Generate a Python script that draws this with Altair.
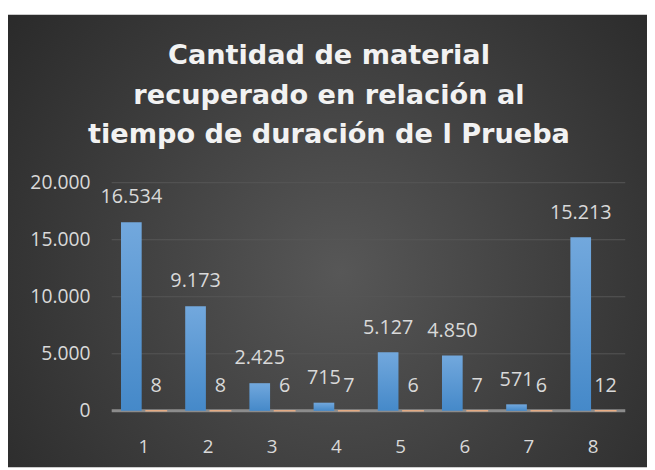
import altair as alt
import pandas as pd

categories = ["1", "2", "3", "4", "5", "6", "7", "8"]
material = [16534, 9173, 2425, 715, 5127, 4850, 571, 15213]
tiempo = [8, 8, 6, 7, 6, 7, 6, 12]
series_names = ["Material", "Tiempo"]
y_ticks = [0, 5000, 10000, 15000, 20000]
title_lines = ["Cantidad de material", "recuperado en relación al", "tiempo de duración de l Prueba"]

rows = []
for c, m, t in zip(categories, material, tiempo):
    rows.append({"cat": c, "serie": series_names[0], "valor": m})
    rows.append({"cat": c, "serie": series_names[1], "valor": t})
df = pd.DataFrame(rows)

W, H = 520, 231
FONT = "Open Sans"
TFONT = "DejaVu Sans"
one = pd.DataFrame({"a": [0]})

base = alt.Chart(df)

bg = alt.Chart(one).mark_rect(
    fill=alt.RadialGradient(
        gradient="radial",
        stops=[alt.GradientStop(color="#575757", offset=0),
               alt.GradientStop(color="#3e3e3e", offset=0.5),
               alt.GradientStop(color="#262626", offset=1)],
        x1=0.52, y1=0.55, r1=0, x2=0.52, y2=0.55, r2=0.72,
    )
).encode(x=alt.value(-105), x2=alt.value(542), y=alt.value(-170), y2=alt.value(288))

yaxis = alt.Axis(values=y_ticks, domain=False, ticks=False, grid=False, zindex=1,
                 labelColor="#d9d9d9", labelFont=FONT, labelFontSize=19.5,
                 labelPadding=22,
                 labelExpr="replace(format(datum.value, ','), ',', '.')")
xenc = alt.X("cat:N", sort=categories, title=None,
             scale=alt.Scale(paddingInner=0.29, paddingOuter=0.145),
             axis=alt.Axis(labelAngle=0, domain=False, ticks=False, grid=False, zindex=1,
                           labelColor="#d9d9d9", labelFont=FONT,
                           labelFontSize=19, labelPadding=27))
yscale = alt.Scale(domain=[0, 20000], nice=False)
yenc = alt.Y("valor:Q", title=None, scale=yscale, axis=yaxis)
xoff = alt.XOffset("serie:N", sort=series_names,
                   scale=alt.Scale(domain=series_names, paddingInner=0.17, paddingOuter=0))

grid = alt.Chart(pd.DataFrame({"valor": y_ticks[1:]})).mark_rule(
    color="#565656", strokeWidth=1
).encode(y=yenc, x=alt.value(0), x2=alt.value(W))

zero = alt.Chart(one).mark_rule(color="#8c8c8c", strokeWidth=3).encode(
    y=alt.value(H), x=alt.value(0), x2=alt.value(W))

bars1 = base.transform_filter(alt.datum.serie == series_names[0]).mark_bar(
    fill=alt.LinearGradient(
        gradient="linear",
        stops=[alt.GradientStop(color="#72a8dd", offset=0),
               alt.GradientStop(color="#4589c9", offset=1)],
        x1=0, x2=0, y1=0, y2=1,
    )
).encode(x=xenc, y=yenc, xOffset=xoff)

bars2 = base.transform_filter(alt.datum.serie == series_names[1]).mark_bar(
    fill="#f4b183", stroke="#f4b183", strokeWidth=1.2
).encode(x=xenc, y=yenc, xOffset=xoff)

labels = base.transform_calculate(
    lab="replace(format(datum.valor, ','), ',', '.')"
).mark_text(
    font=FONT, fontSize=20, color="#d9d9d9", baseline="middle", dy=-25
).encode(x=xenc, y=yenc, xOffset=xoff, text="lab:N")

title = alt.Chart(one).mark_text(
    text=title_lines, font=TFONT, fontSize=27.5, fontWeight="bold", color="#f2f2f2",
    lineHeight=40, align="center", baseline="alphabetic"
).encode(x=alt.value(220), y=alt.value(-120))

chart = alt.layer(bg, grid, zero, bars1, bars2, labels, title).properties(
    width=W, height=H,
    autosize=alt.AutoSizeParams(type="none"),
    padding={"left": 105, "top": 174, "right": 22, "bottom": 57},
    background="white",
).configure_view(stroke=None)

chart.save("out.html", embed_options={"renderer": "svg", "actions": False})
